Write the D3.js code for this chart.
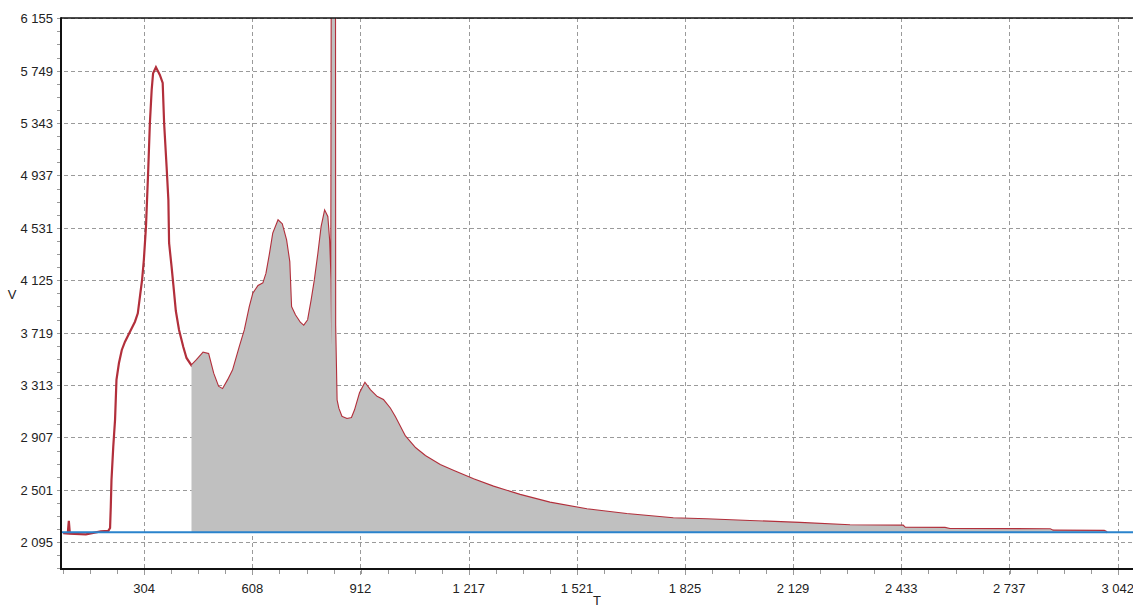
<!DOCTYPE html>
<html>
<head>
<meta charset="utf-8">
<script src="https://cdn.jsdelivr.net/npm/d3@7"></script>
<style>
  body { margin: 0; background: #fff; }
  text { font-family: "Liberation Sans", Arial, sans-serif; font-size: 13px; fill: #222; }
</style>
</head>
<body>
<div id="chart"></div>
<script>
// Signal samples (T, V)
const tValues = [76, 89, 92, 95, 140, 182, 203, 208, 210, 212, 217, 222, 226, 233, 241, 250, 264, 278, 286, 292,
  298, 303, 309, 315, 320, 325, 329, 337, 348, 356, 360, 367, 372, 374, 381, 386, 393, 402, 414, 423,
  437, 452, 470, 484, 498, 512, 525, 540, 554, 573, 587, 601, 611, 625, 639, 648, 658, 667, 681, 691,
  703, 712, 717, 728, 742, 753, 765, 775, 784, 794, 803, 812, 819, 824, 828, 830, 833, 840, 841, 845,
  850, 859, 874, 888, 897, 911, 925, 939, 958, 976, 995, 1009, 1037, 1066, 1094, 1136, 1173, 1230, 1286, 1361,
  1445, 1549, 1661, 1792, 1886, 2008, 2148, 2289, 2438, 2444, 2556, 2570, 2852, 2860, 3004, 3012];
const vValues = [2165, 2163, 2262, 2161, 2157, 2179, 2183, 2206, 2369, 2578, 2836, 3043, 3353, 3484, 3585, 3649, 3727, 3804, 3869, 3998,
  4127, 4282, 4540, 4956, 5344, 5599, 5729, 5775, 5716, 5654, 5344, 5005, 4747, 4414, 4230, 4089, 3887, 3740, 3608, 3523,
  3465, 3508, 3564, 3554, 3404, 3301, 3280, 3353, 3430, 3611, 3740, 3920, 4024, 4081, 4102, 4179, 4334, 4489, 4587, 4561,
  4437, 4269, 3920, 3856, 3797, 3771, 3817, 3972, 4127, 4334, 4540, 4657, 4618, 4437, 4127, 3624, 9000, 9000, 3779, 3198,
  3133, 3068, 3050, 3058, 3120, 3252, 3327, 3275, 3223, 3198, 3133, 3068, 2919, 2826, 2764, 2694, 2650, 2583, 2526, 2462,
  2402, 2351, 2314, 2281, 2273, 2260, 2245, 2227, 2224, 2208, 2206, 2198, 2196, 2185, 2183, 2173];

const baseline = 2172;      // blue reference level
const fillStart = 437;      // integration starts here
const xTicks = [304, 608, 912, 1217, 1521, 1825, 2129, 2433, 2737, 3042];
const yTicks = [2095, 2501, 2907, 3313, 3719, 4125, 4531, 4937, 5343, 5749, 6155];
const xDomain = [70, 3085];
const yDomain = [1888, 6157];

const data = tValues.map((t, i) => ({t: t, v: vValues[i]}));

const width = 1133, height = 609;
const margin = {top: 18, right: 0, bottom: 40, left: 61};

const svg = d3.select('#chart')
    .append('svg')
    .attr('width', width)
    .attr('height', height);

const xScale = d3.scaleLinear()
    .domain(xDomain)
    .range([margin.left, width - margin.right]);

const yScale = d3.scaleLinear()
    .domain(yDomain)
    .range([height - margin.bottom, margin.top]);

const fmt = d3.formatLocale({decimal: ',', thousands: ' ', grouping: [3], currency: ['', '']}).format(',d');

// minor ticks: quarters between the labelled ones
const xStep = (xTicks[xTicks.length - 1] - xTicks[0]) / (xTicks.length - 1) / 4;
const xMinor = d3.range(1, 41).map(k => k * xStep).filter(d => d > xDomain[0]);
const yStep = (yTicks[1] - yTicks[0]) / 4;
const yMinor = d3.range(-2, 41).map(k => yTicks[0] + k * yStep).filter(d => d > yDomain[0] && d < yDomain[1]);

svg.append('defs').append('clipPath').attr('id', 'plot')
  .append('rect')
    .attr('x', margin.left)
    .attr('y', margin.top)
    .attr('width', width - margin.left)
    .attr('height', height - margin.bottom - margin.top);

// minor ticks
svg.append('g').selectAll('line')
    .data(xMinor)
    .enter().append('line')
    .attr('x1', d => Math.round(xScale(d)) + 0.5)
    .attr('x2', d => Math.round(xScale(d)) + 0.5)
    .attr('y1', height - margin.bottom)
    .attr('y2', height - margin.bottom + 5)
    .attr('stroke', '#999');

svg.append('g').selectAll('line')
    .data(yMinor)
    .enter().append('line')
    .attr('x1', margin.left - 4)
    .attr('x2', margin.left)
    .attr('y1', d => Math.round(yScale(d)) + 0.5)
    .attr('y2', d => Math.round(yScale(d)) + 0.5)
    .attr('stroke', '#999');

// dashed grid (runs a little past the axes as the major ticks)
svg.append('g').selectAll('line')
    .data(xTicks)
    .enter().append('line')
    .attr('x1', d => Math.round(xScale(d)) + 0.5)
    .attr('x2', d => Math.round(xScale(d)) + 0.5)
    .attr('y1', margin.top)
    .attr('y2', height - margin.bottom + 8)
    .attr('stroke', '#9a9a9a')
    .attr('stroke-dasharray', '4,3');

svg.append('g').selectAll('line')
    .data(yTicks)
    .enter().append('line')
    .attr('x1', margin.left - 4)
    .attr('x2', width)
    .attr('y1', d => Math.round(yScale(d)) + 0.5)
    .attr('y2', d => Math.round(yScale(d)) + 0.5)
    .attr('stroke', '#9a9a9a')
    .attr('stroke-dasharray', '4,3');

const plot = svg.append('g').attr('clip-path', 'url(#plot)');

// red signal
const line = d3.line()
    .x(d => xScale(d.t))
    .y(d => yScale(d.v));

plot.append('path')
    .datum(data)
    .attr('d', line)
    .attr('fill', 'none')
    .attr('stroke', '#b22f3b')
    .attr('stroke-width', 2.2);

// grey area over the baseline
const area = d3.area()
    .x(d => xScale(d.t))
    .y0(yScale(baseline))
    .y1(d => yScale(d.v));

plot.append('path')
    .datum(data.filter(d => d.t >= fillStart))
    .attr('d', area)
    .attr('fill', '#c0c0c0');

// blue baseline
plot.append('line')
    .attr('x1', margin.left)
    .attr('x2', width)
    .attr('y1', yScale(baseline))
    .attr('y2', yScale(baseline))
    .attr('stroke', '#2a83cc')
    .attr('stroke-width', 2);

// frame
svg.append('line')
    .attr('x1', margin.left).attr('x2', width)
    .attr('y1', margin.top).attr('y2', margin.top)
    .attr('stroke', '#111').attr('stroke-width', 1.5);

svg.append('line')
    .attr('x1', margin.left).attr('x2', margin.left)
    .attr('y1', margin.top - 0.75).attr('y2', height - margin.bottom + 1)
    .attr('stroke', '#111').attr('stroke-width', 2);

svg.append('line')
    .attr('x1', margin.left - 1).attr('x2', width)
    .attr('y1', height - margin.bottom).attr('y2', height - margin.bottom)
    .attr('stroke', '#111').attr('stroke-width', 2);

// tick labels
svg.append('g').selectAll('text')
    .data(xTicks)
    .enter().append('text')
    .attr('x', d => xScale(d))
    .attr('y', height - margin.bottom + 24)
    .style('text-anchor', 'middle')
    .text(d => fmt(d));

svg.append('g').selectAll('text')
    .data(yTicks)
    .enter().append('text')
    .attr('x', margin.left - 8)
    .attr('y', d => yScale(d) + 5)
    .style('text-anchor', 'end')
    .text(d => fmt(d));

// axis titles
svg.append('text')
    .attr('x', 12)
    .attr('y', (margin.top + height - margin.bottom) / 2 + 5)
    .style('text-anchor', 'middle')
    .text('V');

svg.append('text')
    .attr('x', (margin.left + width) / 2)
    .attr('y', height - 4)
    .style('text-anchor', 'middle')
    .text('T');
</script>
</body>
</html>
